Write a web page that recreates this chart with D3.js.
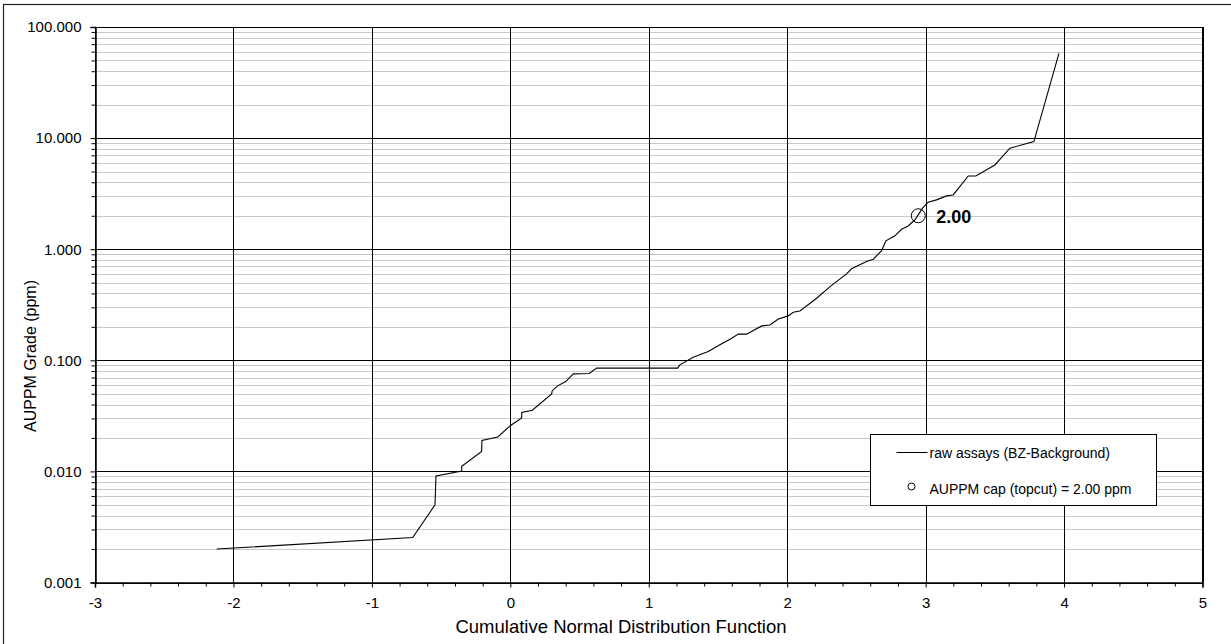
<!DOCTYPE html>
<html>
<head>
  <meta charset="utf-8">
  <script src="https://d3js.org/d3.v7.min.js"></script>
  <style>
    body { margin: 0; background: #fff; }
    svg { font-family: "Liberation Sans", Arial, sans-serif; }
  </style>
</head>
<body>
  <svg id="chart" width="1231" height="644"></svg>
  <script>
    // cumulative normal score (x) vs grade in ppm (y)
    const cdfScores = [-2.12, -0.705, -0.544, -0.537, -0.351, -0.351, -0.207, -0.205, -0.091, 0.002, 0.082, 0.083, 0.159,
      0.299, 0.302, 0.342, 0.40, 0.455, 0.570, 0.624, 1.209, 1.225, 1.321, 1.430, 1.514, 1.587, 1.647, 1.707, 1.816,
      1.875, 1.936, 2.008, 2.044, 2.092, 2.213, 2.309, 2.429, 2.465, 2.573, 2.622, 2.682, 2.713, 2.778, 2.826, 2.874,
      2.923, 2.978, 3.019, 3.079, 3.151, 3.199, 3.308, 3.363, 3.500, 3.609, 3.782, 3.963];
    const gradesPpm = [0.0020, 0.00254, 0.0050, 0.0091, 0.01005, 0.0111, 0.0151, 0.019, 0.0204, 0.0259, 0.0302, 0.034, 0.0355,
      0.0499, 0.053, 0.0589, 0.0644, 0.0755, 0.076, 0.085, 0.085, 0.091, 0.1067, 0.12, 0.138, 0.155, 0.172, 0.172, 0.204,
      0.208, 0.235, 0.251, 0.271, 0.278, 0.362, 0.461, 0.60, 0.666, 0.774, 0.813, 0.972, 1.19, 1.32, 1.51, 1.62,
      1.84, 2.34, 2.65, 2.78, 3.02, 3.08, 4.56, 4.56, 5.73, 8.11, 9.29, 57.9];
    const capPoint = { x: 2.947, y: 2.00 };
    const capLabel = '2.00';
    const xTicks = [-3, -2, -1, 0, 1, 2, 3, 4, 5];
    const yTicks = [0.001, 0.01, 0.1, 1, 10, 100];
    const legendLabels = ['raw assays (BZ-Background)', 'AUPPM cap (topcut) = 2.00 ppm'];

    const data = cdfScores.map((x, i) => ({ x: x, y: gradesPpm[i] }));

    const svg = d3.select('#chart');
    const margin = { top: 27, left: 95, right: 1202.5, bottom: 582.5 };

    // outer chart frame (cut at right/bottom in the original)
    svg.append('rect')
      .attr('x', 3.5).attr('y', 4.5)
      .attr('width', 1240).attr('height', 660)
      .attr('fill', 'none').attr('stroke', '#222').attr('stroke-width', 1.2);

    const x = d3.scaleLinear().domain([-3, 5]).range([margin.left, margin.right]);
    const y = d3.scaleLog().domain([0.001, 100]).range([margin.bottom, margin.top]);

    // minor gridlines
    const minorY = [];
    yTicks.slice(0, -1).forEach(d => {
      for (let k = 2; k <= 9; k++) minorY.push(d * k);
    });
    svg.append('g').selectAll('line')
      .data(minorY)
      .enter().append('line')
      .attr('x1', margin.left).attr('x2', margin.right)
      .attr('y1', d => Math.round(y(d)) + 0.5).attr('y2', d => Math.round(y(d)) + 0.5)
      .attr('stroke', '#c8c8c8').attr('stroke-width', 1);

    // major gridlines
    svg.append('g').selectAll('line')
      .data(yTicks)
      .enter().append('line')
      .attr('x1', margin.left).attr('x2', margin.right)
      .attr('y1', d => Math.round(y(d)) + 0.5).attr('y2', d => Math.round(y(d)) + 0.5)
      .attr('stroke', '#000').attr('stroke-width', 1);
    svg.append('g').selectAll('line')
      .data(xTicks)
      .enter().append('line')
      .attr('x1', d => Math.round(x(d)) + 0.5).attr('x2', d => Math.round(x(d)) + 0.5)
      .attr('y1', margin.top).attr('y2', margin.bottom)
      .attr('stroke', '#000').attr('stroke-width', 1);

    // axes
    const yAxis = svg.append('g')
      .attr('transform', `translate(${margin.left + 0.5},0)`)
      .call(d3.axisLeft(y).tickValues(yTicks).tickFormat(d3.format('.3f')).tickSize(5).tickPadding(9));
    yAxis.select('.domain').attr('stroke-width', 1.5);
    yAxis.selectAll('text').style('font-size', '15px').attr('fill', '#000');
    svg.append('g')
      .attr('transform', `translate(${margin.left + 0.5},0)`)
      .call(d3.axisLeft(y).tickValues(minorY).tickFormat('').tickSize(4))
      .select('.domain').remove();

    const minorX = d3.range(-3, 5.001, 0.2).filter(d => Math.abs(d - Math.round(d)) > 1e-6);
    const xAxis = svg.append('g')
      .attr('transform', `translate(0,${margin.bottom})`)
      .call(d3.axisBottom(x).tickValues(xTicks).tickFormat(d => String(d)).tickSize(5).tickPadding(10));
    xAxis.select('.domain').attr('stroke-width', 1.5);
    xAxis.selectAll('text').style('font-size', '15px').attr('fill', '#000');
    svg.append('g')
      .attr('transform', `translate(0,${margin.bottom})`)
      .call(d3.axisBottom(x).tickValues(minorX).tickFormat('').tickSize(4))
      .select('.domain').remove();
    svg.selectAll('.tick line').attr('stroke', '#000');

    // right border of plot
    svg.append('line')
      .attr('x1', margin.right).attr('x2', margin.right)
      .attr('y1', margin.top).attr('y2', margin.bottom)
      .attr('stroke', '#000');

    // axis titles (centred on the chart frame, not the plot)
    svg.append('text')
      .attr('x', 621).attr('y', 633)
      .attr('text-anchor', 'middle').style('font-size', '18.5px')
      .text('Cumulative Normal Distribution Function');
    svg.append('text')
      .attr('transform', 'translate(36,356) rotate(-90)')
      .attr('text-anchor', 'middle').style('font-size', '16px')
      .text('AUPPM Grade (ppm)');

    // the curve
    const line = d3.line().x(d => x(d.x)).y(d => y(d.y));
    svg.append('path')
      .datum(data)
      .attr('d', line)
      .attr('fill', 'none').attr('stroke', '#000').attr('stroke-width', 1.1);

    // cap marker
    svg.append('circle')
      .attr('cx', x(capPoint.x)).attr('cy', y(capPoint.y)).attr('r', 7)
      .attr('fill', 'none').attr('stroke', '#000').attr('stroke-width', 1);
    svg.append('text')
      .attr('x', x(capPoint.x) + 18).attr('y', y(capPoint.y) + 7)
      .style('font-size', '18px').style('font-weight', 'bold')
      .text(capLabel);

    // legend
    const lg = svg.append('g').attr('transform', 'translate(870.5,434.5)');
    lg.append('rect').attr('width', 286).attr('height', 71)
      .attr('fill', '#fff').attr('stroke', '#000').attr('stroke-width', 1);
    lg.append('line').attr('x1', 26).attr('x2', 57).attr('y1', 18).attr('y2', 18)
      .attr('stroke', '#000');
    lg.append('circle').attr('cx', 41).attr('cy', 52).attr('r', 3.5)
      .attr('fill', 'none').attr('stroke', '#000');
    lg.selectAll('text.leg')
      .data(legendLabels)
      .enter().append('text')
      .attr('class', 'leg')
      .attr('x', 59).attr('y', (d, i) => 23 + i * 36)
      .style('font-size', '14px')
      .text(d => d);
  </script>
</body>
</html>
